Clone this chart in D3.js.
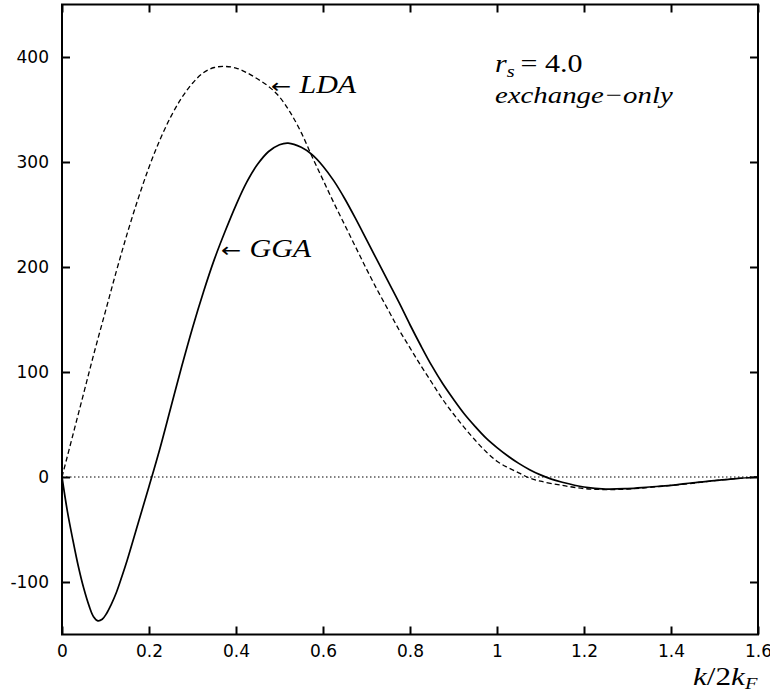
<!DOCTYPE html>
<html>
<head>
<meta charset="utf-8">
<script src="https://cdn.jsdelivr.net/npm/d3@7"></script>
<style>
  html, body { margin: 0; padding: 0; background: #fff; }
  svg { display: block; }
</style>
</head>
<body>
<svg id="chart" width="770" height="692"></svg>
<script>
// ---- data ----
const xTicks = [0, 0.2, 0.4, 0.6, 0.8, 1, 1.2, 1.4, 1.6];
const xTickLabels = ["0", "0.2", "0.4", "0.6", "0.8", "1", "1.2", "1.4", "1.6"];
const yTicks = [-100, 0, 100, 200, 300, 400];
const yTickLabels = ["-100", "0", "100", "200", "300", "400"];

const ldaK = [0, 0.025, 0.05, 0.075, 0.1, 0.125, 0.15, 0.175, 0.2, 0.225, 0.25, 0.275, 0.3, 0.325, 0.35, 0.375, 0.4, 0.425, 0.45, 0.475, 0.5, 0.525, 0.55, 0.575, 0.6, 0.625, 0.65, 0.675, 0.7, 0.725, 0.75, 0.775, 0.8, 0.825, 0.85, 0.875, 0.9, 0.925, 0.95, 0.975, 1.0, 1.025, 1.05, 1.075, 1.1, 1.15, 1.2, 1.25, 1.3, 1.35, 1.4, 1.45, 1.5, 1.55, 1.6];
const ldaValues = [0, 40, 80, 120, 158, 196, 232, 265, 295, 321, 343, 361, 375, 385, 390, 391, 389.5, 385, 379, 372, 362, 347, 328, 305, 283, 261, 240, 219, 198, 178, 159, 140, 123, 106, 90, 74, 60, 47, 35, 24, 15, 9, 4, -1, -4, -8, -11, -12, -11.5, -10, -8, -6, -3.5, -1.5, 0];

const ggaK = [0, 0.0125, 0.025, 0.0375, 0.05, 0.0625, 0.0725, 0.0825, 0.0925, 0.1025, 0.1125, 0.125, 0.1375, 0.15, 0.175, 0.2, 0.225, 0.25, 0.275, 0.3, 0.325, 0.35, 0.375, 0.4, 0.425, 0.45, 0.475, 0.5, 0.52, 0.55, 0.575, 0.6, 0.625, 0.65, 0.675, 0.7, 0.725, 0.75, 0.775, 0.8, 0.825, 0.85, 0.875, 0.9, 0.925, 0.95, 0.975, 1.0, 1.025, 1.05, 1.075, 1.1, 1.125, 1.15, 1.2, 1.25, 1.3, 1.35, 1.4, 1.45, 1.5, 1.55, 1.6];
const ggaValues = [0, -33, -60, -85, -106, -123, -133, -137, -135.5, -130, -122, -110, -95, -79, -44, -9, 27, 66, 105, 142, 176, 207, 234, 259, 281, 298, 310, 316.5, 318, 314, 307, 296, 282, 265, 246, 226, 206, 186, 166, 145, 125, 106, 89, 74, 60, 48, 37, 28, 20, 13, 7, 2, -2, -5, -9.5, -11.5, -11, -9.5, -8, -5.5, -3.5, -1.5, 0];

// ---- layout ----
const svg = d3.select("#chart");
const x = d3.scaleLinear().domain([0, 1.6]).range([62, 758]);
const y = d3.scaleLinear().domain([-150, 450]).range([634.5, 4.5]);

const tickFont = "'DejaVu Sans', sans-serif";
const serif = "'Liberation Serif', 'Times New Roman', serif";

// axes (ticks inward on all four sides)
const gx = svg.append("g").attr("transform", `translate(0,${y(-150)})`)
  .call(d3.axisBottom(x).tickValues(xTicks).tickSize(-8).tickPadding(10)
    .tickFormat((d, i) => xTickLabels[i]));
const gy = svg.append("g").attr("transform", `translate(${x(0)},0)`)
  .call(d3.axisLeft(y).tickValues(yTicks).tickSize(-8).tickPadding(13)
    .tickFormat((d, i) => yTickLabels[i]));
const gxt = svg.append("g").attr("transform", `translate(0,${y(450)})`)
  .call(d3.axisTop(x).tickValues(xTicks).tickSize(-8).tickFormat(""));
const gyr = svg.append("g").attr("transform", `translate(${x(1.6)},0)`)
  .call(d3.axisRight(y).tickValues(yTicks).tickSize(-8).tickFormat(""));

[gx, gy, gxt, gyr].forEach(g => {
  g.select(".domain").remove();
  g.selectAll(".tick line").attr("stroke", "#000").attr("stroke-width", 2);
  g.selectAll(".tick text").attr("font-family", tickFont).attr("font-size", 17).attr("fill", "#000");
});

// zero line
svg.append("line")
  .attr("x1", x(0)).attr("x2", x(1.6)).attr("y1", y(0)).attr("y2", y(0))
  .attr("stroke", "#000").attr("stroke-width", 1).attr("stroke-dasharray", "1.5,2.5");

// curves
const line = d3.line().x(d => x(d[0])).y(d => y(d[1])).curve(d3.curveCatmullRom.alpha(0.5));
svg.append("path")
  .attr("d", line(ldaK.map((k, i) => [k, ldaValues[i]])))
  .attr("fill", "none").attr("stroke", "#000").attr("stroke-width", 1.3)
  .attr("stroke-dasharray", "5,3");
svg.append("path")
  .attr("d", line(ggaK.map((k, i) => [k, ggaValues[i]])))
  .attr("fill", "none").attr("stroke", "#000").attr("stroke-width", 1.7);

// frame
svg.append("rect")
  .attr("x", x(0)).attr("y", y(450))
  .attr("width", x(1.6) - x(0)).attr("height", y(-150) - y(450))
  .attr("fill", "none").attr("stroke", "#000").attr("stroke-width", 2);

// text helper (stretched serif, like the original)
function label(px, py, size) {
  return svg.append("g").attr("transform", `translate(${px},${py}) scale(1.2,1)`)
    .append("text").attr("font-family", serif).attr("font-size", size || 25).attr("fill", "#000");
}

// LDA / GGA labels
const lda = label(271, 93);
lda.append("tspan").attr("font-family", "'DejaVu Sans', sans-serif").attr("font-size", 20).text("\u2190");
lda.append("tspan").attr("font-style", "italic").attr("dx", 7).text("LDA");

const gga = label(221, 257);
gga.append("tspan").attr("font-family", "'DejaVu Sans', sans-serif").attr("font-size", 20).text("\u2190");
gga.append("tspan").attr("font-style", "italic").attr("dx", 7).text("GGA");

// r_s = 4.0
const rs = label(495, 72);
rs.append("tspan").attr("font-style", "italic").text("r");
rs.append("tspan").attr("font-style", "italic").attr("font-size", 17).attr("dy", 5).text("s");
rs.append("tspan").attr("dy", -5).attr("dx", 5).text("= 4.0");

// exchange-only
const ex = label(495, 103, 24);
ex.append("tspan").attr("font-style", "italic").text("exchange\u2212only");

// x-axis title k/2k_F
const kt = label(693, 685, 26);
kt.append("tspan").attr("font-style", "italic").text("k");
kt.append("tspan").text("/2");
kt.append("tspan").attr("font-style", "italic").text("k");
kt.append("tspan").attr("font-style", "italic").attr("font-size", 17).attr("dy", 4).text("F");
</script>
</body>
</html>
